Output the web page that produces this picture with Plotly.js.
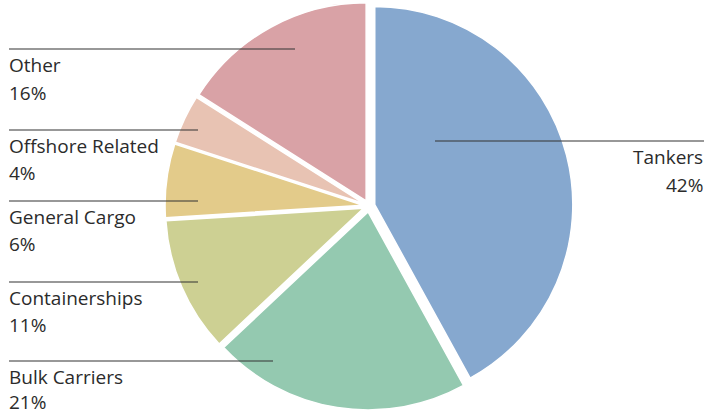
<!DOCTYPE html>
<html>
<head>
<meta charset="utf-8">
<script src="https://cdn.plot.ly/plotly-3.0.1.min.js"></script>
<style>html,body{margin:0;padding:0;background:#fff;}#chart{width:704px;height:414px;}</style>
</head>
<body>
<div id="chart"></div>
<script>
// Data
const categories = ["Tankers", "Bulk Carriers", "Containerships", "General Cargo", "Offshore Related", "Other"];
const shares = [42, 21, 11, 6, 4, 16];
const percentLabels = ["42%", "21%", "11%", "6%", "4%", "16%"];
const sliceColors = ["#86a8cf", "#94c9b0", "#cdd093", "#e3cb8a", "#e8c3b3", "#d9a2a6"];

const W = 704, H = 414;
const px = v => v / W;
const py = v => 1 - v / H;

// Label layout (pixel positions): [lineY, lineX0, lineX1, nameY, pctY, textX, anchor]
const labelLayout = {
  "Other":            [49, 9, 295, 65, 93, 9, "left"],
  "Offshore Related": [130, 9, 198, 146, 173, 9, "left"],
  "General Cargo":    [201, 9, 198, 217, 244, 9, "left"],
  "Containerships":   [282, 9, 198, 298, 325, 9, "left"],
  "Bulk Carriers":    [361, 9, 273, 377, 402, 9, "left"],
  "Tankers":          [141, 435, 704, 157, 185, 703, "right"]
};

const annotations = [];
const shapes = [];
const font = {family: "Open Sans, Lato, sans-serif", size: 19, color: "#2b2b2b"};
categories.forEach((c, i) => {
  const L = labelLayout[c];
  shapes.push({type: "line", xref: "paper", yref: "paper",
    x0: px(L[1]), x1: px(L[2]), y0: py(L[0]), y1: py(L[0]),
    line: {color: "#333", width: 1.2}});
  annotations.push({xref: "paper", yref: "paper", x: px(L[5]), y: py(L[3]),
    text: c, showarrow: false, xanchor: L[6], yanchor: "middle", font: font,
    borderpad: 0, xshift: L[6] === "left" ? -1 : 1});
  annotations.push({xref: "paper", yref: "paper", x: px(L[5]), y: py(L[4]),
    text: percentLabels[i], showarrow: false, xanchor: L[6], yanchor: "middle", font: font,
    borderpad: 0, xshift: L[6] === "left" ? -1 : 1});
});

const trace = {
  type: "pie",
  labels: categories,
  values: shares,
  sort: false,
  direction: "clockwise",
  rotation: 0,
  pull: [0.03, 0.03, 0.03, 0.03, 0.03, 0.03],
  marker: {colors: sliceColors, line: {color: "#ffffff", width: 1.5}},
  textinfo: "none",
  hoverinfo: "label+percent",
  showlegend: false,
  domain: {x: [164 / W, 574 / W], y: [4 / H, 412 / H]}
};

const layout = {
  width: W, height: H,
  margin: {l: 0, r: 0, t: 0, b: 0},
  paper_bgcolor: "#ffffff",
  plot_bgcolor: "#ffffff",
  showlegend: false,
  annotations: annotations,
  shapes: shapes
};

Plotly.newPlot("chart", [trace], layout, {displayModeBar: false, staticPlot: true});
</script>
</body>
</html>
